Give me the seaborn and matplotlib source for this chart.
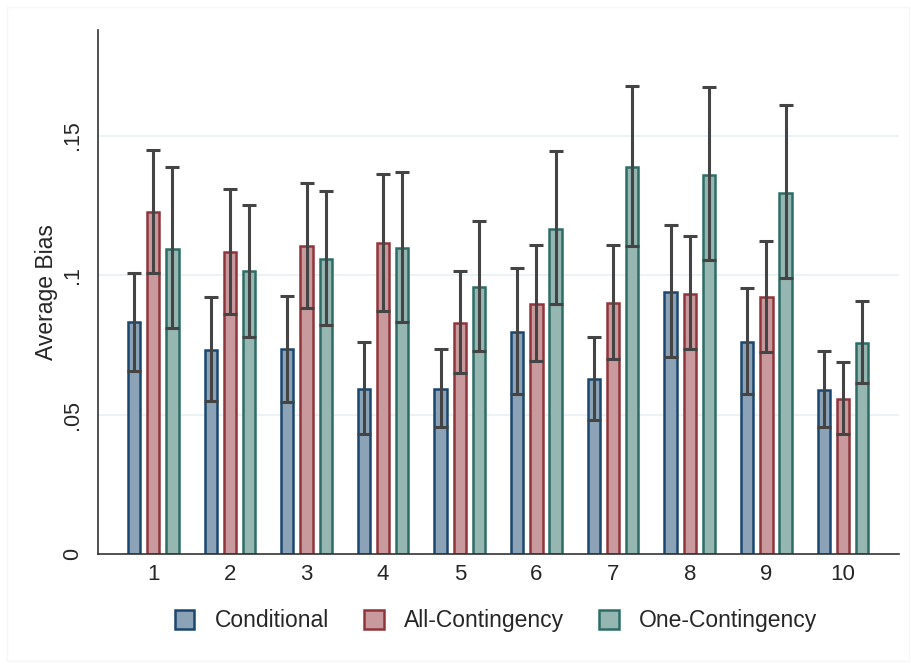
import numpy as np
import pandas as pd
import matplotlib
matplotlib.use("Agg")
import matplotlib.pyplot as plt
import seaborn as sns

# ── data ──────────────────────────────────────────────────────
groups = ["1", "2", "3", "4", "5", "6", "7", "8", "9", "10"]
series = ["Conditional", "All-Contingency", "One-Contingency"]

cond_mean = [0.0832, 0.0733, 0.0735, 0.0592, 0.0591, 0.0797, 0.0628, 0.0940, 0.0760, 0.0589]
cond_lo   = [0.0658, 0.0549, 0.0546, 0.0432, 0.0455, 0.0573, 0.0482, 0.0706, 0.0573, 0.0456]
cond_hi   = [0.1007, 0.0921, 0.0927, 0.0760, 0.0735, 0.1026, 0.0779, 0.1180, 0.0953, 0.0729]

all_mean = [0.1226, 0.1082, 0.1103, 0.1115, 0.0829, 0.0896, 0.0901, 0.0934, 0.0920, 0.0556]
all_lo   = [0.1007, 0.0860, 0.0884, 0.0872, 0.0649, 0.0693, 0.0701, 0.0735, 0.0723, 0.0430]
all_hi   = [0.1449, 0.1310, 0.1330, 0.1364, 0.1015, 0.1107, 0.1107, 0.1142, 0.1123, 0.0689]

one_mean = [0.1095, 0.1014, 0.1057, 0.1097, 0.0958, 0.1167, 0.1387, 0.1359, 0.1296, 0.0756]
one_lo   = [0.0812, 0.0780, 0.0821, 0.0834, 0.0729, 0.0895, 0.1105, 0.1054, 0.0991, 0.0615]
one_hi   = [0.1386, 0.1252, 0.1300, 0.1368, 0.1195, 0.1445, 0.1678, 0.1674, 0.1610, 0.0909]

yticks = [0, 0.05, 0.10, 0.15]
ytick_labels = ["0", ".05", ".1", ".15"]

edge_colors = ["#1a476f", "#90353b", "#2d6d66"]
fill_colors = ["#8ca3b7", "#c89a9d", "#96b6b2"]

means = [cond_mean, all_mean, one_mean]
lows = [cond_lo, all_lo, one_lo]
highs = [cond_hi, all_hi, one_hi]

df = pd.DataFrame({
    "group": groups * 3,
    "series": np.repeat(series, len(groups)),
    "bias": cond_mean + all_mean + one_mean,
})

# ── plot ──────────────────────────────────────────────────────
sns.set_style("white")
plt.rcParams["font.family"] = ["Liberation Sans", "DejaVu Sans"]

fig = plt.figure(figsize=(9.11, 6.68), dpi=100)
ax = fig.add_axes([0.1076, 0.1702, 0.8792, 0.7856])

sns.barplot(data=df, x="group", y="bias", hue="series", order=groups,
            hue_order=series, palette=fill_colors, width=0.75, gap=0.36,
            errorbar=None, saturation=1, linewidth=1.8, ax=ax, legend=False)

bar_sets = list(ax.containers)
for j, cont in enumerate(bar_sets):
    xs = []
    for bar in cont.patches:
        bar.set_edgecolor(edge_colors[j])
        bar.set_linewidth(1.8)
        xs.append(bar.get_x() + bar.get_width() / 2)
    m = np.array(means[j])
    yerr = [m - np.array(lows[j]), np.array(highs[j]) - m]
    ax.errorbar(xs, m, yerr=yerr, fmt="none", ecolor="#444444",
                elinewidth=2.2, capsize=4.8, capthick=2.2, zorder=5)

ax.set_xlim(-0.72, 9.73)
ax.set_ylim(0, 0.188)
ax.set_yticks(yticks)
ax.set_yticklabels(ytick_labels, rotation=90, va="center", fontsize=15.5)
for lab in ax.get_xticklabels():
    lab.set_fontsize(16)
ax.tick_params(axis="x", length=0, pad=7)
ax.tick_params(axis="y", length=6.5, width=1.1, color="#333333", pad=4)

for v in yticks[1:]:
    ax.axhline(v, color="#eaf1f3", linewidth=1.2, zorder=0)

ax.set_xlabel("")
ax.set_ylabel("Average Bias", fontsize=16.5, labelpad=3)
sns.despine(ax=ax)
for s in ["left", "bottom"]:
    ax.spines[s].set_color("#333333")
    ax.spines[s].set_linewidth(1.2)

fig.legend(handles=[c.patches[0] for c in bar_sets], labels=series, loc="center",
           bbox_to_anchor=(0.5445, 0.0704), ncol=3, frameon=False,
           prop={"size": 16.5},
           handlelength=0.87, handleheight=0.87, handletextpad=0.9,
           columnspacing=1.5)

# faint outer border of the graph region
fig.patches.append(plt.Rectangle((0.008, 0.01), 0.99, 0.98, transform=fig.transFigure,
                                 fill=False, edgecolor="#f6f6f6", linewidth=1))

fig.savefig("out.png", dpi=100)
